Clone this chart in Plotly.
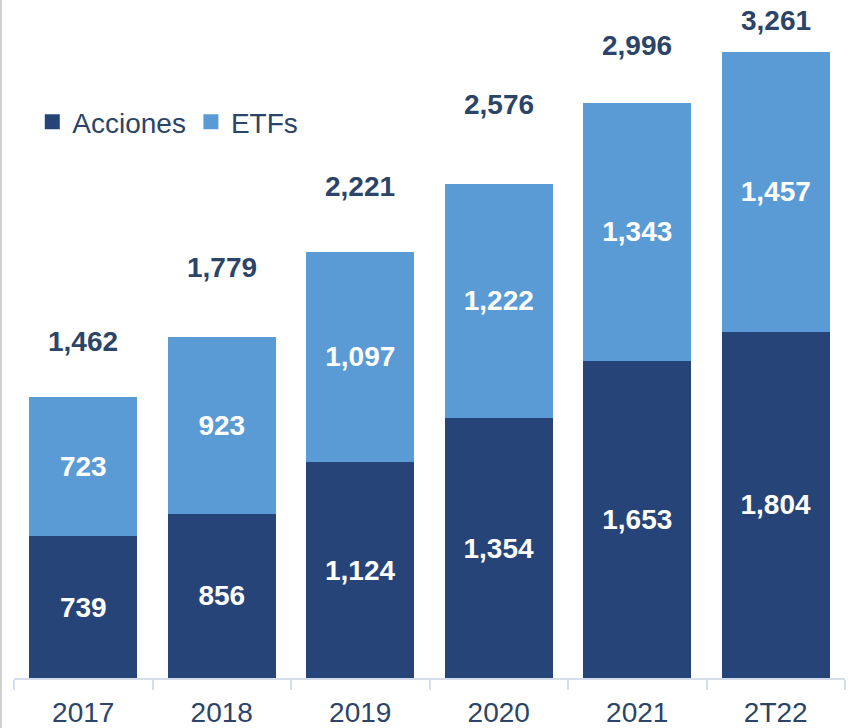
import plotly.graph_objects as go

categories = ["2017", "2018", "2019", "2020", "2021", "2T22"]
acciones = [739, 856, 1124, 1354, 1653, 1804]
etfs = [723, 923, 1097, 1222, 1343, 1457]
totals = [1462, 1779, 2221, 2576, 2996, 3261]

# style: pixel offsets of total labels above bar tops
total_shift = [56, 69, 65, 79, 57, 32]

DARK = "#264478"
LIGHT = "#5B9BD5"
TXT = "#2B4468"
FONT = "Liberation Sans, Arial, sans-serif"

fig = go.Figure()
fig.add_trace(go.Bar(
    x=categories, y=acciones, name="Acciones", marker_color=DARK,
    marker_line_width=0,
    text=[f"{v:,}" for v in acciones], textposition="inside",
    insidetextanchor="middle", showlegend=False,
    textfont=dict(color="white", size=28, family=FONT, weight="bold"),
))
fig.add_trace(go.Bar(
    x=categories, y=etfs, name="ETFs", marker_color=LIGHT,
    marker_line_width=0,
    text=[f"{v:,}" for v in etfs], textposition="inside",
    insidetextanchor="middle", showlegend=False,
    textfont=dict(color="white", size=28, family=FONT, weight="bold"),
))
# legend entries with square symbols
for nm, col in (("Acciones", DARK), ("ETFs", LIGHT)):
    fig.add_trace(go.Scatter(x=[None], y=[None], mode="markers", name=nm,
                             marker=dict(symbol="square", size=15, color=col)))

for i, (t, s) in enumerate(zip(totals, total_shift)):
    fig.add_annotation(x=i, y=t, xref="x", yref="y", text=f"{t:,}", showarrow=False,
                       yanchor="middle", yshift=s,
                       font=dict(size=28, color=TXT, family=FONT, weight="bold"))

fig.update_layout(
    barmode="stack",
    bargap=0.22,
    width=848, height=728,
    margin=dict(l=14, r=3, t=0, b=48),
    plot_bgcolor="white", paper_bgcolor="white",
    font=dict(family=FONT, size=28, color=TXT),
    showlegend=True,
    legend=dict(orientation="h", x=0.022, y=0.82, xanchor="left", yanchor="middle",
                font=dict(size=28, color=TXT, family=FONT),
                bgcolor="rgba(0,0,0,0)", traceorder="normal",
                itemwidth=30, tracegroupgap=0),
)
fig.update_xaxes(
    type="category",
    showline=True, linecolor="#D5DCEB", linewidth=2,
    ticks="outside", tickson="boundaries", ticklen=10, tickcolor="#D5DCEB",
    tickwidth=2, tickfont=dict(size=28, color=TXT, family=FONT),
    ticklabelstandoff=8,
    range=[-0.5, 5.5], fixedrange=True,
)
fig.update_yaxes(visible=False, range=[0, 3532], showgrid=False, fixedrange=True)

fig.add_shape(type="line", xref="paper", yref="paper",
              x0=-13/831, x1=-13/831, y0=-1, y1=1.2,
              line=dict(color="#D0D0D0", width=2))

fig.write_html("out.html", config={"displayModeBar": False},
               post_script="document.body.style.margin='0';document.body.style.overflow='hidden';")
